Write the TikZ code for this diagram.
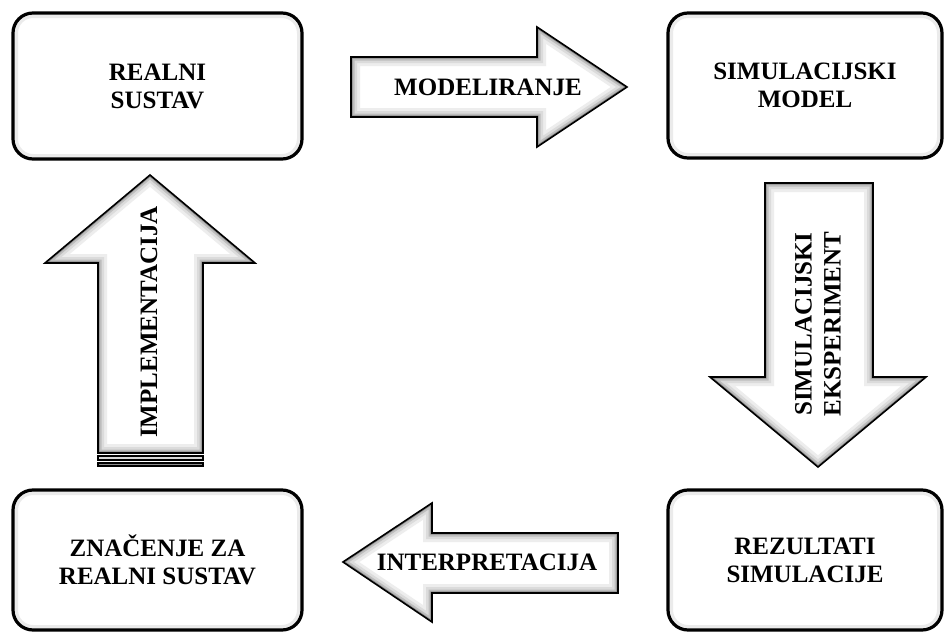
\documentclass[tikz,border=0pt]{standalone}
\usepackage{fontspec}
\setmainfont{Liberation Serif}
\usepackage{tikz}
\usetikzlibrary{shapes,positioning,calc,shadows}

% block arrow with a soft inner glow
\newcommand{\glowpath}[1]{%
    \fill[white] #1;
    \begin{scope}
        \clip #1;
        \draw[line width=9pt, black!7] #1;
        \draw[line width=6pt, black!14] #1;
        \draw[line width=3.5pt, black!26] #1;
        \draw[line width=1.6pt, black!45] #1;
    \end{scope}
    \draw[line width=0.8pt, line join=miter] #1;
}

\tikzset{
    box/.style={draw, line width=1.6pt, rounded corners=10pt, fill=white,
        align=center, font=\fontsize{12.5}{14}\selectfont\bfseries,
        drop shadow={opacity=0.25, shadow xshift=0.6pt, shadow yshift=-0.6pt},
        path picture={\draw[line width=5pt, black!8, rounded corners=10pt]
            (path picture bounding box.south west) rectangle (path picture bounding box.north east);}},
    label/.style={align=center, font=\fontsize{12.5}{14.5}\selectfont\bfseries}
}

\begin{document}
\begin{tikzpicture}[x=0.5pt, y=-0.5pt]
    \useasboundingbox (0,0) rectangle (944,632);

    % Boxes
    \node[box, minimum width=144.5pt, minimum height=73pt] (realni) at (157.5,86) {REALNI\\SUSTAV};
    \node[box, minimum width=137pt, minimum height=72.5pt] (model) at (805,85.5) {SIMULACIJSKI\\MODEL};
    \node[box, minimum width=137pt, minimum height=70pt] (rezultati) at (805,560) {REZULTATI\\SIMULACIJE};
    \node[box, minimum width=144.5pt, minimum height=70pt] (znacenje) at (157.5,560) {ZNAČENJE ZA\\REALNI SUSTAV};

    % Arrows
    \glowpath{(351,57) -- (537,57) -- (537,27) -- (627,87) -- (537,147) -- (537,117) -- (351,117) -- cycle}
    \glowpath{(765,183) -- (873,183) -- (873,377) -- (926,377) -- (818,467) -- (710,377) -- (765,377) -- cycle}
    \glowpath{(618,533) -- (432,533) -- (432,503) -- (343,562) -- (432,622) -- (432,593) -- (618,593) -- cycle}
    \glowpath{(98,453) -- (98,263) -- (45,263) -- (150,175) -- (255,263) -- (203,263) -- (203,453) -- cycle}
    \draw[line width=0.6pt, fill=black!15] (98,456) rectangle (203,460);
    \draw[line width=0.6pt, fill=black!45] (98,463) rectangle (203,466);

    % Arrow labels
    \node[label] (modeliranje) at (488,87) {MODELIRANJE};
    \node[label, rotate=90] (eksperiment) at (818,324) {SIMULACIJSKI\\EKSPERIMENT};
    \node[label] (interpretacija) at (487,562) {INTERPRETACIJA};
    \node[label, rotate=90] (implementacija) at (149,322) {IMPLEMENTACIJA};
\end{tikzpicture}
\end{document}
